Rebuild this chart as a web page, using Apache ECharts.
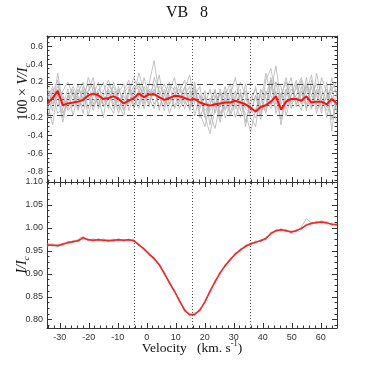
<!DOCTYPE html>
<html>
<head>
<meta charset="utf-8">
<script src="https://cdn.jsdelivr.net/npm/echarts@6/dist/echarts.min.js"></script>
<style>html,body{margin:0;padding:0;background:#fff}#c{width:374px;height:374px}</style>
</head>
<body>
<div id="c"></div>
<script>
const velocity = [-34.2,-32.45,-30.7,-28.95,-27.2,-25.45,-23.7,-21.95,-20.2,-18.45,
 -16.7,-14.95,-13.2,-11.45,-9.7,-7.95,-6.2,-4.45,-2.7,-0.95,
 0.8,2.55,4.3,6.05,7.8,9.55,11.3,13.05,14.8,16.55,
 18.3,20.05,21.8,23.55,25.3,27.05,28.8,30.55,32.3,34.05,
 35.8,37.55,39.3,41.05,42.8,44.55,46.3,48.05,49.8,51.55,
 53.3,55.05,56.8,58.55,60.3,62.05,63.8,65.55];

const vMean = [-0.04,0.02,0.10,-0.06,-0.04,-0.03,-0.02,0.00,0.05,0.07,
 0.05,0.01,0.02,0.04,0.01,-0.04,-0.01,0.02,0.07,0.03,
 0.06,0.06,0.03,0.00,0.02,0.045,0.04,0.02,0.00,0.01,
 -0.03,-0.05,-0.065,-0.05,-0.04,-0.03,-0.03,-0.01,-0.03,-0.05,
 -0.09,-0.13,-0.08,-0.06,-0.02,0.04,-0.11,-0.02,0.01,0.01,
 -0.01,0.04,-0.03,-0.02,-0.02,-0.05,0.01,-0.04];

const vGray1 = [0.05,-0.12,0.30,-0.05,0.12,-0.18,0.08,0.20,-0.10,0.15,
 0.02,-0.20,0.18,0.05,-0.15,0.10,0.22,-0.08,0.12,-0.05,
 0.18,0.44,0.05,-0.12,0.10,0.25,-0.02,0.15,-0.08,0.20,
 -0.15,-0.30,-0.05,0.12,-0.20,0.05,0.18,-0.10,0.08,-0.25,
 -0.05,0.15,-0.18,0.22,0.35,0.05,-0.22,0.10,0.25,-0.08,
 0.15,-0.12,0.22,0.05,-0.15,0.20,-0.35,0.10];
const vGray2 = [-0.10,0.08,0.22,-0.15,-0.02,0.10,-0.12,0.05,0.18,-0.05,
 0.12,0.06,-0.10,0.20,0.02,-0.12,0.05,0.15,-0.05,0.25,
 0.02,-0.10,0.15,0.08,-0.15,0.02,0.18,-0.05,0.10,0.05,
 0.15,-0.18,-0.38,-0.10,0.08,-0.12,0.05,0.25,-0.05,-0.15,
 -0.36,-0.10,0.05,-0.15,0.10,0.38,-0.05,0.12,-0.10,0.18,
 -0.05,0.25,-0.10,0.08,0.15,-0.20,0.05,-0.12];
const vGray3 = [0.12,-0.05,0.05,-0.25,0.02,0.15,0.05,-0.15,0.10,0.25,
 -0.08,0.05,0.12,-0.10,0.08,0.18,-0.12,0.05,0.30,0.10,
 -0.05,0.12,-0.08,0.05,0.20,-0.10,0.02,0.12,0.28,-0.05,
 -0.10,0.05,-0.15,-0.32,-0.05,0.15,-0.08,0.02,0.20,0.05,
 -0.20,-0.30,0.12,0.02,-0.10,0.20,0.15,-0.18,0.05,0.12,
 0.25,0.05,-0.10,0.30,0.02,-0.08,0.12,0.20];
const vGray4 = [-0.20,0.02,0.15,0.05,-0.12,-0.05,0.18,-0.02,0.05,-0.12,
 0.08,0.20,-0.05,-0.15,0.12,-0.02,0.08,0.25,0.10,-0.10,
 0.10,0.05,0.28,-0.05,0.05,-0.08,0.10,0.22,-0.12,0.05,
 -0.05,0.10,-0.28,0.05,-0.15,-0.05,0.12,-0.20,-0.02,0.10,
 -0.10,-0.20,-0.05,0.30,0.05,-0.10,0.05,0.20,-0.05,0.02,
 -0.12,0.18,0.05,-0.05,0.25,0.08,-0.22,-0.05];
const vGray5 = [0.02,0.15,-0.08,0.10,0.20,0.05,-0.10,0.12,-0.18,0.05,
 0.20,-0.08,0.02,0.10,-0.05,-0.18,0.12,0.02,-0.10,0.15,
 0.05,0.18,-0.12,0.12,-0.05,0.15,0.05,-0.10,0.05,0.15,
 -0.20,-0.05,0.12,-0.15,0.08,-0.20,-0.05,0.10,-0.12,0.18,
 -0.15,0.05,-0.22,0.10,-0.05,0.10,-0.28,0.05,0.18,-0.05,
 0.10,-0.05,0.15,-0.15,0.05,0.12,-0.05,-0.25];
const vGray6 = [-0.05,-0.28,0.12,0.02,-0.10,0.08,0.02,-0.08,0.25,0.10,
 -0.05,0.10,0.22,0.05,-0.10,0.05,-0.05,0.12,0.20,-0.02,
 0.12,0.08,0.02,-0.08,0.15,0.12,-0.10,0.05,0.15,-0.18,
 0.05,-0.12,-0.05,0.10,-0.08,0.10,-0.15,0.05,0.12,-0.30,
 0.02,0.12,-0.08,-0.12,0.25,-0.05,0.08,-0.10,0.05,0.22,
 -0.02,0.10,0.28,-0.10,-0.05,0.02,0.15,-0.15];
const vGray7 = [0.10,0.05,-0.15,-0.10,0.05,-0.08,0.12,0.02,0.10,0.18,
 -0.10,0.02,0.05,0.15,-0.02,0.08,0.15,-0.10,0.05,0.12,
 -0.08,0.25,0.10,-0.02,-0.05,0.08,0.12,-0.02,-0.10,0.10,
 0.05,-0.20,0.02,-0.08,0.12,-0.10,0.02,-0.05,-0.20,0.02,
 -0.08,-0.15,0.10,0.05,0.22,-0.15,0.02,0.25,-0.02,0.05,
 0.22,-0.10,0.05,0.18,-0.02,-0.12,0.25,0.05];
const vGray8 = [-0.08,0.12,0.05,-0.20,0.05,0.12,-0.05,0.15,0.05,-0.08,
 0.05,-0.05,0.10,-0.05,0.15,-0.10,-0.02,0.10,0.15,0.05,
 0.10,-0.05,0.05,0.18,0.02,0.05,-0.05,0.08,0.02,0.12,
 -0.08,0.02,-0.12,-0.02,-0.25,0.02,-0.18,-0.02,0.05,-0.10,
 -0.15,0.05,-0.12,-0.05,0.15,0.20,-0.10,-0.05,0.12,0.02,
 0.05,0.15,-0.05,0.12,-0.10,0.05,0.08,0.12];

const iMean = [0.963,0.962,0.961,0.965,0.968,0.970,0.972,0.979,0.974,0.973,
 0.974,0.973,0.972,0.973,0.974,0.973,0.974,0.972,0.963,0.954,
 0.943,0.933,0.920,0.901,0.881,0.862,0.841,0.821,0.811,0.812,
 0.821,0.839,0.862,0.883,0.902,0.918,0.931,0.943,0.952,0.960,
 0.965,0.969,0.972,0.977,0.988,0.994,0.996,0.994,0.991,0.994,
 0.999,1.006,1.010,1.012,1.013,1.011,1.008,1.007];
const iGray1 = [0.966,0.960,0.964,0.963,0.971,0.968,0.975,0.981,0.972,0.976,
 0.972,0.975,0.970,0.976,0.972,0.975,0.972,0.974,0.961,0.957,
 0.940,0.936,0.917,0.904,0.878,0.865,0.838,0.824,0.808,0.815,
 0.818,0.842,0.859,0.886,0.899,0.921,0.928,0.946,0.949,0.963,
 0.962,0.972,0.969,0.980,0.985,0.997,0.993,0.997,0.988,0.997,
 0.996,1.009,1.007,1.015,1.010,1.014,1.005,1.010];
const iGray2 = [0.960,0.964,0.959,0.967,0.965,0.973,0.970,0.977,0.976,0.970,
 0.977,0.971,0.975,0.970,0.977,0.971,0.976,0.970,0.966,0.951,
 0.946,0.930,0.923,0.898,0.884,0.859,0.844,0.818,0.814,0.809,
 0.824,0.836,0.865,0.880,0.905,0.915,0.934,0.940,0.955,0.957,
 0.968,0.966,0.975,0.974,0.991,0.991,0.999,0.991,0.994,0.991,
 1.002,1.020,1.011,1.009,1.016,1.008,1.011,1.004];
const iGray3 = [0.965,0.965,0.962,0.962,0.969,0.971,0.974,0.976,0.975,0.975,
 0.973,0.976,0.973,0.971,0.975,0.974,0.973,0.975,0.962,0.956,
 0.944,0.931,0.921,0.903,0.880,0.864,0.840,0.823,0.810,0.813,
 0.820,0.840,0.860,0.884,0.901,0.919,0.930,0.944,0.951,0.961,
 0.966,0.968,0.973,0.976,0.987,0.995,0.995,0.995,0.990,0.995,
 0.998,1.007,1.009,1.013,1.012,1.012,1.007,1.008];
const iGray4 = [0.961,0.963,0.963,0.964,0.966,0.969,0.971,0.978,0.973,0.974,
 0.975,0.972,0.973,0.974,0.973,0.972,0.975,0.971,0.964,0.953,
 0.942,0.934,0.919,0.900,0.882,0.861,0.842,0.820,0.812,0.811,
 0.822,0.838,0.863,0.882,0.903,0.917,0.932,0.942,0.953,0.959,
 0.964,0.970,0.971,0.978,0.986,0.993,0.997,0.993,0.992,0.993,
 1.000,1.005,1.011,1.011,1.014,1.010,1.009,1.006];

const velocityMarks = [-4.4, 15.6, 35.6];
const vDashed = [0.175, -0.165];
const vDotted = [0.065, 0.005, -0.055];

const zip = arr => velocity.map((v, i) => [v, arr[i]]);

const X_MIN = -34.4, X_MAX = 65.6;
const tickLabelStyle = { fontFamily: 'Liberation Sans', fontSize: 9, color: '#333' };

function xAx(gridIndex, position, labels) {
  return {
    type: 'value', gridIndex, position, min: X_MIN, max: X_MAX, splitNumber: 10,
    axisLine: { show: true, onZero: false, lineStyle: { color: '#333', width: 1 } },
    axisTick: { show: true, inside: true, length: 5, lineStyle: { color: '#333' } },
    minorTick: { show: true, splitNumber: 5, length: 2.5, lineStyle: { color: '#333' } },
    splitLine: { show: false },
    axisLabel: Object.assign({ show: labels, margin: 5, showMinLabel: false, showMaxLabel: false }, tickLabelStyle)
  };
}
function yAx(gridIndex, position, labels, min, max, splitNumber, digits, showMax) {
  return {
    type: 'value', gridIndex, position, min, max, splitNumber,
    axisLine: { show: true, onZero: false, lineStyle: { color: '#333', width: 1 } },
    axisTick: { show: true, inside: true, length: 5, lineStyle: { color: '#333' } },
    minorTick: { show: true, splitNumber: 4, length: 2.5, lineStyle: { color: '#333' } },
    splitLine: { show: false },
    axisLabel: Object.assign({ show: labels, margin: 4, showMinLabel: false, showMaxLabel: showMax,
      formatter: v => v.toFixed(digits) }, tickLabelStyle)
  };
}

const grayStyle = { color: '#b4b4b4', width: 0.8 };
const series = [];
[vGray1, vGray2, vGray3, vGray4, vGray5, vGray6, vGray7, vGray8].forEach(g => {
  series.push({ type: 'line', xAxisIndex: 0, yAxisIndex: 0, data: zip(g), showSymbol: false,
    lineStyle: grayStyle, silent: true, z: 2 });
});
series.push({
  type: 'line', xAxisIndex: 0, yAxisIndex: 0, data: zip(vMean), showSymbol: false,
  lineStyle: { color: '#ff1010', width: 2 }, z: 5,
  markLine: {
    silent: true, symbol: 'none', label: { show: false }, animation: false,
    data: [
      ...velocityMarks.map(x => ({ xAxis: x, lineStyle: { type: [1, 2], color: '#555', width: 1 } })),
      ...vDashed.map(y => ({ yAxis: y, lineStyle: { type: [6, 4], color: '#444', width: 1 } })),
      ...vDotted.map(y => ({ yAxis: y, lineStyle: { type: [2, 3], color: '#555', width: 1 } }))
    ]
  }
});
[iGray1, iGray2, iGray3, iGray4].forEach(g => {
  series.push({ type: 'line', xAxisIndex: 2, yAxisIndex: 2, data: zip(g), showSymbol: false,
    lineStyle: grayStyle, silent: true, z: 2 });
});
series.push({
  type: 'line', xAxisIndex: 2, yAxisIndex: 2, data: zip(iMean), showSymbol: false,
  lineStyle: { color: '#ff2020', width: 1.5 }, z: 5,
  markLine: {
    silent: true, symbol: 'none', label: { show: false }, animation: false,
    data: velocityMarks.map(x => ({ xAxis: x, lineStyle: { type: [1, 2], color: '#555', width: 1 } }))
  }
});

const serif = 'Liberation Serif';
const chart = echarts.init(document.getElementById('c'), null, { renderer: 'canvas' });
chart.setOption({
  animation: false,
  backgroundColor: '#fff',
  grid: [
    { left: 47, right: 37, top: 36, height: 146 },
    { left: 47, right: 37, top: 182, height: 146 }
  ],
  xAxis: [xAx(0, 'bottom', false), xAx(0, 'top', false), xAx(1, 'bottom', true), xAx(1, 'top', false)],
  yAxis: [
    yAx(0, 'left', true, -0.92, 0.715, 8, 1, false),
    yAx(0, 'right', false, -0.92, 0.715, 8, 1, false),
    yAx(1, 'left', true, 0.782, 1.10, 6, 2, true),
    yAx(1, 'right', false, 0.782, 1.10, 6, 2, true)
  ],
  series,
  graphic: [
    { type: 'text', left: 'center', top: 5, style: { text: 'VB   8', font: '16px ' + serif, fill: '#111' } },
    { type: 'text', x: 23, y: 92, rotation: Math.PI / 2,
      style: { text: '{n|100 × }{i|V/I}{s|c}', align: 'center', verticalAlign: 'middle', fill: '#111',
        rich: {
          n: { fontFamily: serif, fontSize: 14, lineHeight: 18, verticalAlign: 'middle' },
          i: { fontFamily: serif, fontStyle: 'italic', fontSize: 14, lineHeight: 18, verticalAlign: 'middle' },
          s: { fontFamily: serif, fontStyle: 'italic', fontSize: 9, lineHeight: 18, verticalAlign: 'bottom' }
        } } },
    { type: 'text', x: 22, y: 265, rotation: Math.PI / 2,
      style: { text: '{i|I/I}{s|c}', align: 'center', verticalAlign: 'middle', fill: '#111',
        rich: {
          i: { fontFamily: serif, fontStyle: 'italic', fontSize: 14, lineHeight: 18, verticalAlign: 'middle' },
          s: { fontFamily: serif, fontStyle: 'italic', fontSize: 9, lineHeight: 18, verticalAlign: 'bottom' }
        } } },
    { type: 'text', x: 192, y: 348,
      style: { text: '{n|Velocity   (km. s}{p|-1}{n|)}', align: 'center', verticalAlign: 'middle', fill: '#111',
        rich: {
          n: { fontFamily: serif, fontSize: 13.5, lineHeight: 18, verticalAlign: 'middle' },
          p: { fontFamily: serif, fontSize: 8.5, lineHeight: 18, verticalAlign: 'top' }
        } } }
  ]
});
</script>
</body>
</html>
